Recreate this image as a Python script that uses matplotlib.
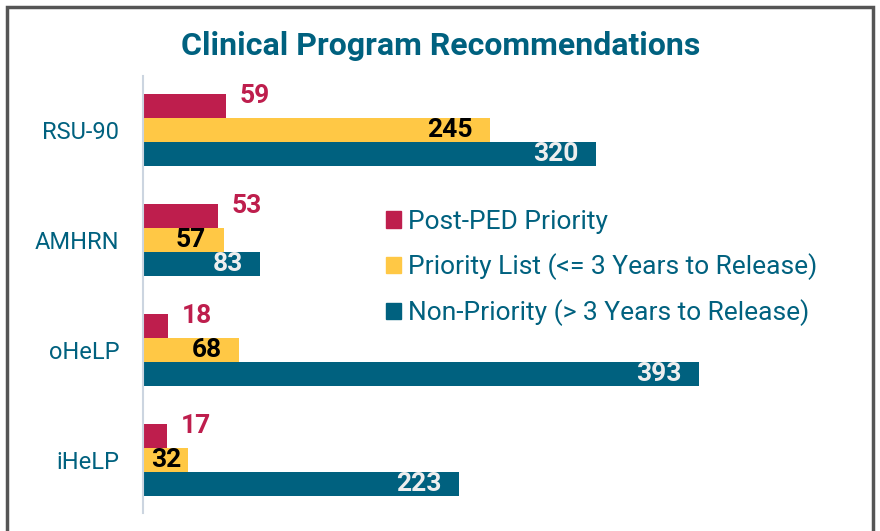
import matplotlib
matplotlib.use('Agg')
import matplotlib.pyplot as plt
from matplotlib.patches import Rectangle, Patch
import numpy as np

plt.rcParams['font.family'] = ['Roboto', 'DejaVu Sans']

categories = ['RSU-90', 'AMHRN', 'oHeLP', 'iHeLP']
post_ped = [59, 53, 18, 17]
priority_list = [245, 57, 68, 32]
non_priority = [320, 83, 393, 223]
series_names = ['Post-PED Priority',
                'Priority List (<= 3 Years to Release)',
                'Non-Priority (> 3 Years to Release)']

RED = '#BE1E4D'
YELLOW = '#FFC845'
TEAL = '#00617F'

fig = plt.figure(figsize=(8.8, 5.31), dpi=100)
ax = fig.add_axes([143 / 880, 1 - 513 / 531, 707.5 / 880, (513 - 76) / 531])

y = np.arange(len(categories))
h = 24 / 110
ax.barh(y - h, post_ped, height=h, color=RED)
ax.barh(y, priority_list, height=h, color=YELLOW)
ax.barh(y + h, non_priority, height=h, color=TEAL)

ax.set_xlim(0, 500)
ax.set_ylim(3 + 53 / 110, -54 / 110)

# value labels
for i in range(len(categories)):
    ax.annotate(str(post_ped[i]), (post_ped[i], y[i] - h), xytext=(20.5, 7.5),
                textcoords='offset points', ha='center', va='center',
                fontsize=19, fontweight='bold', color=RED)
    ax.annotate(str(priority_list[i]), (max(priority_list[i], 27 + 12.7), y[i]),
                xytext=(-12.5, 0), textcoords='offset points', ha='right', va='center',
                fontsize=19, fontweight='bold', color='black')
    ax.annotate(str(non_priority[i]), (non_priority[i], y[i] + h),
                xytext=(-12.5, 0), textcoords='offset points', ha='right', va='center',
                fontsize=19, fontweight='bold', color='#EEEEEE')

ax.set_yticks(y)
ax.set_yticklabels(categories, fontsize=17, color=TEAL)
ax.tick_params(axis='y', length=0, pad=17)
ax.set_xticks([])
for s in ['top', 'right', 'bottom']:
    ax.spines[s].set_visible(False)
ax.spines['left'].set_color('#CCD5E0')
ax.spines['left'].set_linewidth(1.5)

handles = [Patch(color=c) for c in [RED, YELLOW, TEAL]]
fig.legend(handles, series_names, loc='upper left',
           bbox_to_anchor=(362 / 880, 1 - 186 / 531), frameon=False,
           fontsize=19, labelcolor=TEAL, handlelength=0.57, handleheight=0.57,
           handletextpad=0.27, labelspacing=0.74)

fig.text(441 / 880, 1 - 46 / 531, 'Clinical Program Recommendations',
         ha='center', va='center', fontsize=23, fontweight='bold', color=TEAL)

fig.patches.append(Rectangle((7 / 880, -0.1), (873 - 7) / 880, 1.1 - 7 / 531,
                             transform=fig.transFigure, fill=False,
                             edgecolor='#555555', linewidth=2.5))

fig.savefig('out.png', dpi=100)
